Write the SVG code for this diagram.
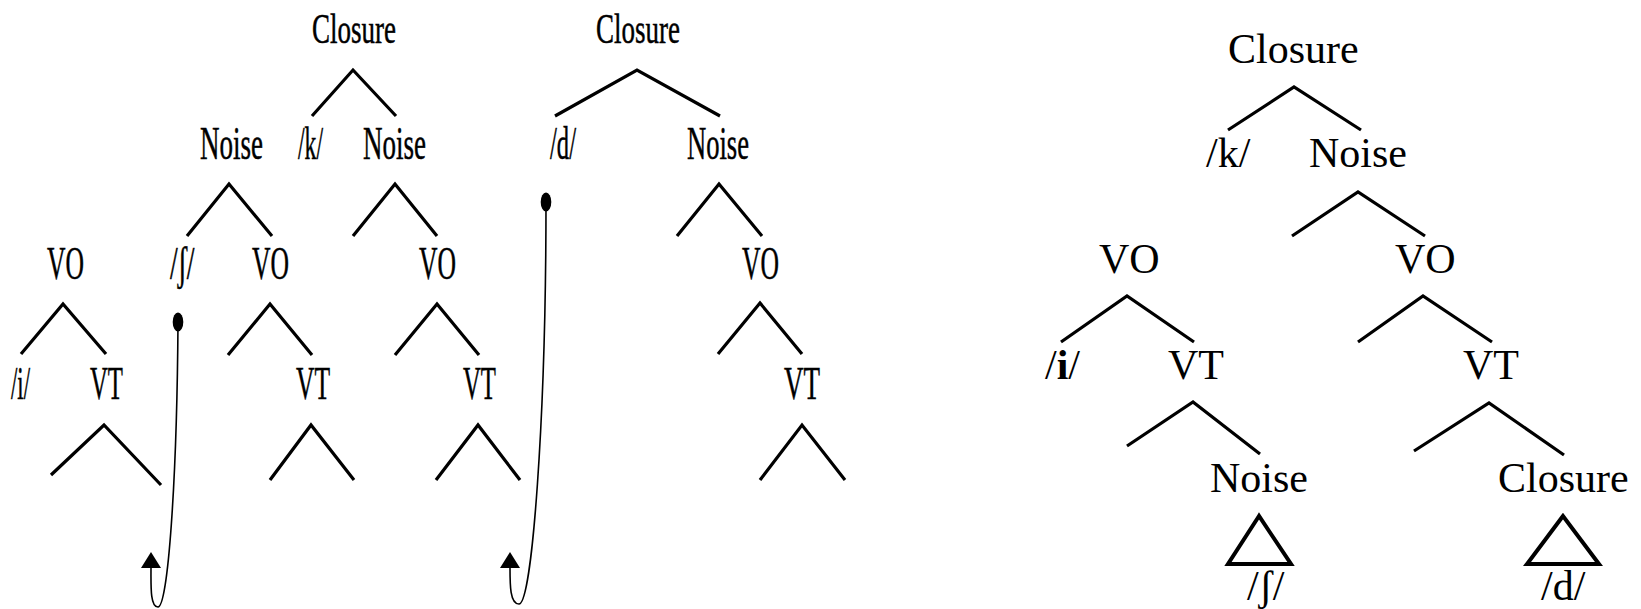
<svg xmlns="http://www.w3.org/2000/svg" width="1641" height="609" viewBox="0 0 1641 609">
<style>
text{font-family:"Liberation Serif","Times New Roman",serif;font-size:42px;fill:#000}
.nar{font-size:46px;stroke:#000;stroke-width:0.5}
.nar.c{font-size:43px}
.br{fill:none;stroke:#000;stroke-width:3.2;stroke-linejoin:miter}
.tri{fill:none;stroke:#000;stroke-width:4;stroke-linejoin:miter}
.cv{fill:none;stroke:#000;stroke-width:1.6}
</style>
<defs>
<marker id="arr" viewBox="0 0 16 20" refX="0" refY="10" markerWidth="16" markerHeight="20" markerUnits="userSpaceOnUse" orient="auto"><path d="M0,0 L16,10 L0,20 z" fill="#000"/></marker>
<marker id="dot" viewBox="-6 -10 12 20" refX="0" refY="0" markerWidth="12" markerHeight="20" markerUnits="userSpaceOnUse" orient="0"><ellipse cx="0" cy="0" rx="5.3" ry="9.5" fill="#000"/></marker>
</defs>

<g id="tree1">
<g id="t1-closure"><text class="nar c" transform="translate(312,43) scale(0.628,1)">Closure</text></g>
<g id="t1-noiseL"><text class="nar" transform="translate(200,159) scale(0.587,1)">Noise</text></g>
<g id="t1-k"><text class="nar" transform="translate(298,159) scale(0.514,1)">/k/</text></g>
<g id="t1-noiseR"><text class="nar" transform="translate(363,159) scale(0.587,1)">Noise</text></g>
<g id="t1-voL"><text class="nar" transform="translate(47,279) scale(0.557,1)">VO</text></g>
<g id="t1-sh"><text class="nar" transform="translate(170,279) scale(0.6,1)">/ʃ/</text></g>
<g id="t1-voM"><text class="nar" transform="translate(252,279) scale(0.557,1)">VO</text></g>
<g id="t1-voR"><text class="nar" transform="translate(419,279) scale(0.557,1)">VO</text></g>
<g id="t1-i"><text class="nar" transform="translate(11,399) scale(0.495,1)">/i/</text></g>
<g id="t1-vtL"><text class="nar" transform="translate(90,399) scale(0.538,1)">VT</text></g>
<g id="t1-vtM"><text class="nar" transform="translate(296,399) scale(0.555,1)">VT</text></g>
<g id="t1-vtR"><text class="nar" transform="translate(463,399) scale(0.538,1)">VT</text></g>
</g>

<g id="tree2">
<g id="t2-closure"><text class="nar c" transform="translate(596,43) scale(0.628,1)">Closure</text></g>
<g id="t2-d"><text class="nar" transform="translate(550,159) scale(0.535,1)">/d/</text></g>
<g id="t2-noise"><text class="nar" transform="translate(687,159) scale(0.578,1)">Noise</text></g>
<g id="t2-vo"><text class="nar" transform="translate(742,279) scale(0.557,1)">VO</text></g>
<g id="t2-vt"><text class="nar" transform="translate(784,399) scale(0.587,1)">VT</text></g>
</g>

<g id="tree3">
<g id="t3-closure"><text x="1228" y="63">Closure</text></g>
<g id="t3-k"><text x="1206" y="167">/k/</text></g>
<g id="t3-noise"><text x="1309" y="167">Noise</text></g>
<g id="t3-voL"><text x="1099" y="273">VO</text></g>
<g id="t3-voR"><text x="1395" y="273">VO</text></g>
<g id="t3-i"><text x="1045" y="379">/<tspan font-weight="bold">i</tspan>/</text></g>
<g id="t3-vtL"><text x="1168" y="379">VT</text></g>
<g id="t3-vtR"><text x="1463" y="379">VT</text></g>
<g id="t3-noise2"><text x="1210" y="492">Noise</text></g>
<g id="t3-closure2"><text x="1498" y="492">Closure</text></g>
<g id="t3-sh"><text x="1247" y="600">/ʃ/</text></g>
<g id="t3-d"><text x="1541" y="600">/d/</text></g>
</g>

<g id="connectors">
<path class="br" d="M312,116 L353,70 L396,116"/>
<path class="br" d="M187,236 L229,184 L272,236"/>
<path class="br" d="M353,236 L395,184 L437,236"/>
<path class="br" d="M21,354 L63,304 L106,354"/>
<path class="br" d="M228,355 L270,304 L312,355"/>
<path class="br" d="M395,355 L437,304 L479,355"/>
<path class="br" d="M51,475 L104,425 L161,485"/>
<path class="br" d="M270,480 L311,425 L354,480"/>
<path class="br" d="M436,480 L478,425 L520,480"/>

<path class="br" d="M555,116 L637,70 L720,116"/>
<path class="br" d="M677,236 L719,184 L762,236"/>
<path class="br" d="M718,354 L760,303 L802,354"/>
<path class="br" d="M760,480 L802,425 L845,480"/>

<path class="br" d="M1228,130 L1294,87 L1361,130"/>
<path class="br" d="M1292,236 L1358,192 L1425,236"/>
<path class="br" d="M1061,342 L1127,296 L1194,342"/>
<path class="br" d="M1358,342 L1423,296 L1492,342"/>
<path class="br" d="M1127,446 L1193,402 L1260,454"/>
<path class="br" d="M1414,451 L1489,403 L1564,455"/>
<path class="tri" d="M1259,516 L1228,564 L1291,564 Z"/>
<path class="tri" d="M1563,516 L1527,564 L1599,564 Z"/>

<path class="cv" marker-start="url(#dot)" marker-end="url(#arr)" d="M178,322 C177,480 168,607 158,607 C150,607 151,585 151,568"/>
<path class="cv" marker-start="url(#dot)" marker-end="url(#arr)" d="M546,202 C546,420 532,604 519,604 C510,604 510,585 510,568"/>
</g>
</svg>
